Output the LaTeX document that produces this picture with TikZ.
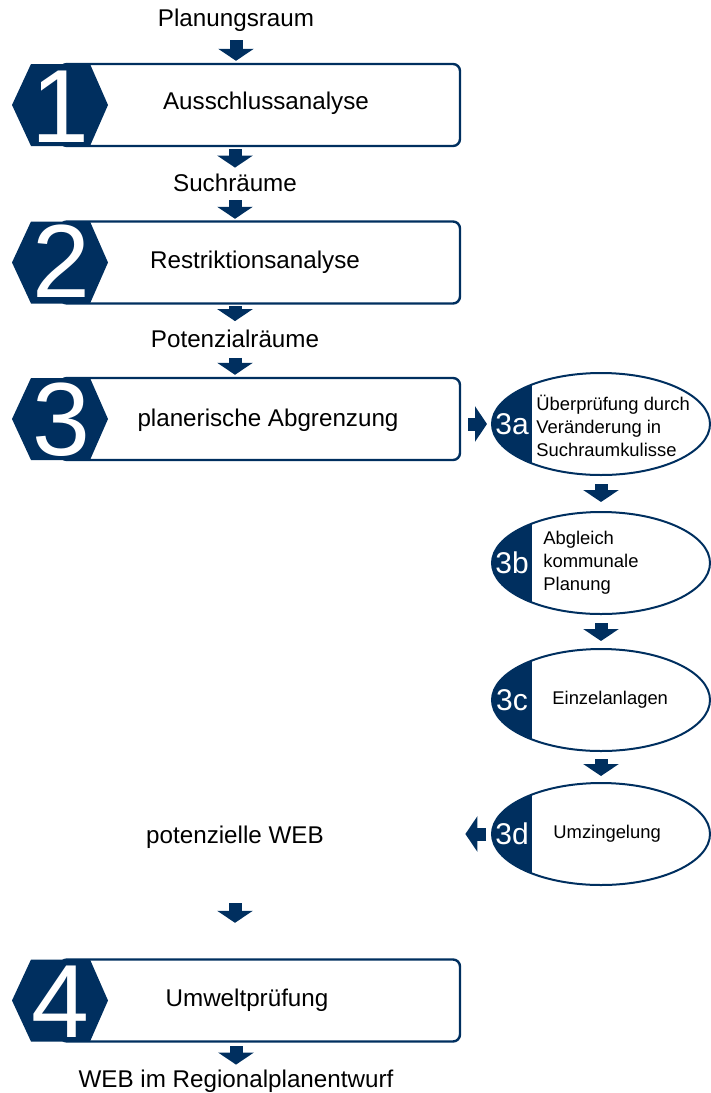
\documentclass[tikz,border=0pt]{standalone}
\usepackage{fontspec}
\setmainfont{Liberation Sans}
\usepackage{tikz}
\usetikzlibrary{shapes.geometric, arrows.meta, positioning}
\definecolor{navy}{RGB}{0,47,95}

\begin{document}
\begin{tikzpicture}[x=0.5pt,y=-0.5pt,
    pfeil/.style={draw=navy, line width=6.5pt, -{Triangle[length=6pt,width=17.5pt]}},
    kasten/.style={draw=navy, line width=1.2pt, rounded corners=3.5pt, minimum width=200pt, minimum height=41pt, inner sep=0pt},
    beschr/.style={inner sep=0pt, text height=8.7pt, text depth=0pt, font=\fontsize{12.1}{14}\selectfont},
    ziffer/.style={text=white, inner sep=0pt, font=\fontsize{52}{52}\selectfont},
    teil/.style={ellipse, draw=navy, line width=1pt, minimum width=109pt, minimum height=51pt, inner sep=0pt,
        path picture={\fill[navy] (path picture bounding box.north west) rectangle ([xshift=20pt]path picture bounding box.south west);}},
    teilnr/.style={text=white, inner sep=0pt, font=\fontsize{15}{15}\selectfont},
    teiltext/.style={inner sep=0pt, align=left, anchor=west, font=\fontsize{9.2}{11.5}\selectfont}]
    \useasboundingbox (0,0) rectangle (711,1093);

    % Kästen der Hauptschritte
    \node[kasten] (b1) at (260,105) {};
    \node[kasten] (b2) at (260,262.5) {};
    \node[kasten] (b3) at (260,419) {};
    \node[kasten] (b4) at (260,1000.5) {};

    % Sechsecke mit Ziffern
    \foreach \m in {105,262.5,419,1000.5}
        \fill[navy] (12,\m) -- (31,\m-41) -- (90,\m-41) -- (108,\m) -- (90,\m+41) -- (31,\m+41) -- cycle;
    \node[ziffer] (z1) at (60,107) {1};
    \node[ziffer] (z2) at (61,261) {2};
    \node[ziffer] (z3) at (61,420) {3};
    \node[ziffer] (z4) at (60,1002) {4};

    % Texte in den Kästen
    \node[beschr] (t1) at (266,101) {Ausschlussanalyse};
    \node[beschr] (t2) at (255,260) {Restriktionsanalyse};
    \node[beschr] (t3) at (268,418) {planerische Abgrenzung};
    \node[beschr] (t4) at (247,997.5) {Umweltprüfung};

    % Zwischenergebnisse
    \node[beschr] (plan) at (236,18) {Planungsraum};
    \node[beschr] (such) at (235,183) {Suchräume};
    \node[beschr] (pot) at (235,338.5) {Potenzialräume};
    \node[beschr] (pweb) at (235,835) {potenzielle WEB};
    \node[beschr] (web) at (236,1079) {WEB im Regionalplanentwurf};

    % Teilschritte 3a bis 3d
    \node[teil] (e3a) at (601,424) {};
    \node[teil] (e3b) at (601,563) {};
    \node[teil] (e3c) at (601,700) {};
    \node[teil] (e3d) at (601,834) {};
    \node[teilnr] (n3a) at (512,424) {3a};
    \node[teilnr] (n3b) at (512,563) {3b};
    \node[teilnr] (n3c) at (512,700) {3c};
    \node[teilnr] (n3d) at (512,834) {3d};
    \node[teiltext] (x3a) at (536,426) {Überprüfung durch\\Veränderung in\\Suchraumkulisse};
    \node[teiltext] (x3b) at (543,563) {Abgleich\\kommunale\\Planung};
    \node[teiltext] (x3c) at (552,700) {Einzelanlagen};
    \node[teiltext] (x3d) at (553,834) {Umzingelung};

    % Pfeile
    \draw[pfeil, shorten <=6.65pt, shorten >=1pt] (plan) -- (plan |- b1.north);
    \draw[pfeil, shorten <=1pt, shorten >=3.15pt] (such |- b1.south) -- (such);
    \draw[pfeil, shorten <=4.15pt, shorten >=0.75pt] (such) -- (such |- b2.north);
    \draw[pfeil, shorten <=0.75pt, shorten >=4.15pt] (pot |- b2.south) -- (pot);
    \draw[pfeil, shorten <=5.15pt, shorten >=1pt] (pot) -- (pot |- b3.north);
    \draw[pfeil, shorten <=3.5pt, shorten >=2pt] (b3.east |- e3a) -- (e3a);
    \draw[pfeil, shorten <=4pt, shorten >=4.5pt] (e3a) -- (e3b);
    \draw[pfeil, shorten <=4pt, shorten >=3.5pt] (e3b) -- (e3c);
    \draw[pfeil, shorten <=3.5pt, shorten >=3pt] (e3c) -- (e3d);
    \draw[pfeil, shorten <=2.5pt, shorten >=70.6pt] (e3d) -- (e3d -| pweb.east);
    \draw[pfeil, shorten <=29.65pt, shorten >=17.75pt] (pweb) -- (pweb |- b4.north);
    \draw[pfeil, shorten <=1.75pt, shorten >=2.65pt] (web |- b4.south) -- (web);
\end{tikzpicture}
\end{document}
